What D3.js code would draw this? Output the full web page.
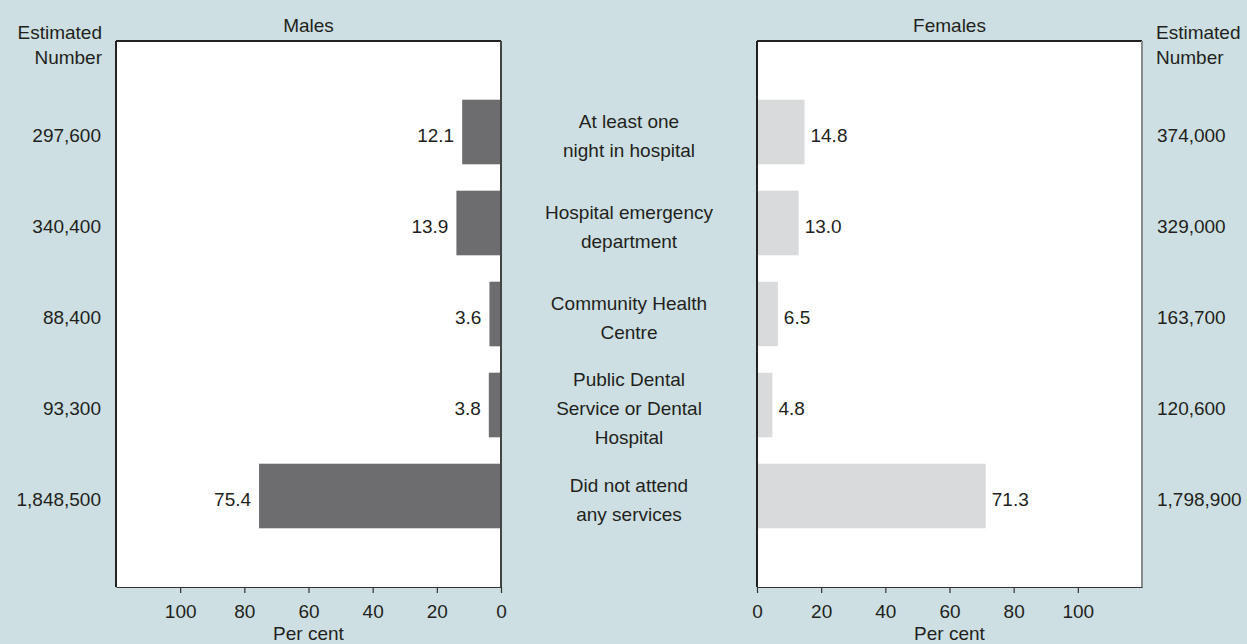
<!DOCTYPE html>
<html>
<head>
<meta charset="utf-8">
<script src="https://cdn.jsdelivr.net/npm/d3@7"></script>
<style>
  html, body { margin: 0; padding: 0; background: #cddfe2; }
  svg { display: block; }
  text { font-family: "Liberation Sans", Arial, Helvetica, sans-serif; font-size: 19px; fill: #231f20; }
</style>
</head>
<body>
<svg id="chart" width="1247" height="644"></svg>
<script>
const categories = [
  "At least one\nnight in hospital",
  "Hospital emergency\ndepartment",
  "Community Health\nCentre",
  "Public Dental\nService or Dental\nHospital",
  "Did not attend\nany services"
];
const maleValues = [12.1, 13.9, 3.6, 3.8, 75.4];
const femaleValues = [14.8, 13.0, 6.5, 4.8, 71.3];
const maleNumbers = [297600, 340400, 88400, 93300, 1848500];
const femaleNumbers = [374000, 329000, 163700, 120600, 1798900];
const tickValues = [0, 20, 40, 60, 80, 100];
const panelTitles = ["Males", "Females"];
const numberHeader = ["Estimated", "Number"];
const axisTitle = "Per cent";

(function () {
const svg = d3.select("#chart");
const W = 1247, H = 644;
svg.append("rect").attr("width", W).attr("height", H).attr("fill", "#cddfe2");

const topY = 41, bottomY = 587;
const L = { left: 116, right: 501 };
const R = { left: 757, right: 1142 };
const maleColor = "#6d6d70", femaleColor = "#d9dadc";
const fmtNum = d3.format(","), fmtVal = d3.format(".1f");

const y = d3.scaleBand().domain(d3.range(categories.length))
  .range([topY, bottomY]).paddingInner(0.29).paddingOuter(0.645);
const xM = d3.scaleLinear().domain([0, 120]).range([L.right, L.left]);
const xF = d3.scaleLinear().domain([0, 120]).range([R.left, R.right]);
const cy = i => y(i) + y.bandwidth() / 2;

// panels
svg.append("rect").attr("x", L.left).attr("y", topY).attr("width", L.right - L.left).attr("height", bottomY - topY).attr("fill", "#fff");
svg.append("rect").attr("x", R.left).attr("y", topY).attr("width", R.right - R.left).attr("height", bottomY - topY).attr("fill", "#fff");

// bars
svg.append("g").selectAll("rect").data(maleValues).join("rect")
  .attr("x", d => xM(d)).attr("y", (d, i) => y(i))
  .attr("width", d => xM(0) - xM(d)).attr("height", y.bandwidth())
  .attr("fill", maleColor);
svg.append("g").selectAll("rect").data(femaleValues).join("rect")
  .attr("x", xF(0)).attr("y", (d, i) => y(i))
  .attr("width", d => xF(d) - xF(0)).attr("height", y.bandwidth())
  .attr("fill", femaleColor);

// borders
const line = (x1, y1, x2, y2, c) => svg.append("line").attr("x1", x1).attr("y1", y1).attr("x2", x2).attr("y2", y2)
  .attr("stroke", c).attr("stroke-width", 1.2).attr("shape-rendering", "crispEdges");
line(L.left, topY, L.right, topY, "#222");
line(L.left, topY, L.left, bottomY, "#222");
line(L.right, topY, L.right, bottomY, "#444");
line(R.left, topY, R.right, topY, "#222");
line(R.left, topY, R.left, bottomY, "#222");
line(R.right, topY, R.right, bottomY, "#888");

// axes
function styleAxis(g) {
  g.selectAll("path").attr("stroke", "#333").attr("stroke-width", 1.2);
  g.selectAll("line").attr("stroke", "#333").attr("stroke-width", 1.2);
  g.selectAll("text").attr("fill", "#231f20").style("font-size", "19px")
    .style("font-family", '"Liberation Sans", Arial, sans-serif');
}
svg.append("g").attr("transform", `translate(0,${bottomY})`)
  .call(d3.axisBottom(xM).tickValues(tickValues).tickSize(6).tickSizeOuter(0).tickPadding(11.5))
  .call(styleAxis);
svg.append("g").attr("transform", `translate(0,${bottomY})`)
  .call(d3.axisBottom(xF).tickValues(tickValues).tickSize(6).tickSizeOuter(0).tickPadding(11.5))
  .call(styleAxis);

// titles
svg.append("text").attr("x", (L.left + L.right) / 2).attr("y", 32).attr("text-anchor", "middle").text(panelTitles[0]);
svg.append("text").attr("x", (R.left + R.right) / 2).attr("y", 32).attr("text-anchor", "middle").text(panelTitles[1]);
svg.append("text").attr("x", (L.left + L.right) / 2).attr("y", 639.5).attr("text-anchor", "middle").text(axisTitle);
svg.append("text").attr("x", (R.left + R.right) / 2).attr("y", 639.5).attr("text-anchor", "middle").text(axisTitle);

// estimated number headers
numberHeader.forEach((t, k) => {
  svg.append("text").attr("x", 102).attr("y", 39 + k * 25).attr("text-anchor", "end").text(t);
  svg.append("text").attr("x", 1156).attr("y", 39 + k * 25).attr("text-anchor", "start").text(t);
});

// estimated numbers
svg.append("g").selectAll("text").data(maleNumbers).join("text")
  .attr("x", 101).attr("y", (d, i) => cy(i) + 10).attr("text-anchor", "end").text(d => fmtNum(d));
svg.append("g").selectAll("text").data(femaleNumbers).join("text")
  .attr("x", 1157).attr("y", (d, i) => cy(i) + 10).attr("text-anchor", "start").text(d => fmtNum(d));

// value labels
svg.append("g").selectAll("text").data(maleValues).join("text")
  .attr("x", d => xM(d) - 8).attr("y", (d, i) => cy(i) + 10).attr("text-anchor", "end").text(d => fmtVal(d));
svg.append("g").selectAll("text").data(femaleValues).join("text")
  .attr("x", d => xF(d) + 6).attr("y", (d, i) => cy(i) + 10).attr("text-anchor", "start").text(d => fmtVal(d));

// category labels
const midX = (L.right + R.left) / 2;
categories.forEach((c, i) => {
  const lines = c.split("\n");
  const lh = 29;
  const t = svg.append("text").attr("text-anchor", "middle");
  lines.forEach((ln, k) => {
    t.append("tspan").attr("x", midX)
      .attr("y", cy(i) + 10 + (k - (lines.length - 1) / 2) * lh).text(ln);
  });
});
})();
</script>
</body>
</html>
